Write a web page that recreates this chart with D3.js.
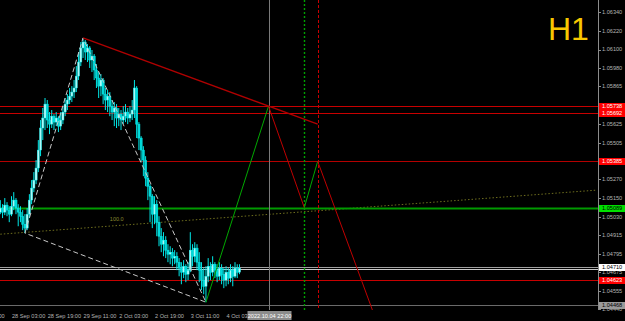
<!DOCTYPE html>
<html>
<head>
<meta charset="utf-8">
<script src="https://cdn.jsdelivr.net/npm/d3@7"></script>
<style>
  html, body { margin: 0; padding: 0; background: #000; overflow: hidden; }
  svg { display: block; }
</style>
</head>
<body>
<svg id="chart" width="625" height="321"></svg>
<script>
// H1 bars, bar 0 = 28 Sep 03:00
const firstBar = -5
const firstOpen = 1.05060
const closes = [
  1.05086, 1.05060, 1.05105, 1.05073, 1.05047,
  1.05098, 1.05137, 1.05086, 1.05060, 1.05034, 1.04983, 1.04958, 1.05047, 1.05137, 1.05214,
  1.05265, 1.05342, 1.05457, 1.05598, 1.05662, 1.05751, 1.05649, 1.05623, 1.05674, 1.05636,
  1.05662, 1.05610, 1.05649, 1.05700, 1.05751, 1.05777, 1.05802, 1.05828, 1.05854, 1.05930,
  1.06020, 1.06110, 1.06148, 1.06084, 1.06110, 1.06033, 1.06058, 1.05969, 1.05918, 1.05866,
  1.05905, 1.05815, 1.05777, 1.05802, 1.05738, 1.05700, 1.05726, 1.05662, 1.05687, 1.05649,
  1.05674, 1.05700, 1.05662, 1.05687, 1.05713, 1.05854, 1.05623, 1.05534, 1.05457, 1.05393,
  1.05278, 1.05226, 1.05162, 1.05047, 1.05111, 1.04996, 1.04906, 1.04855, 1.04881, 1.04817,
  1.04791, 1.04804, 1.04766, 1.04778, 1.04740, 1.04702, 1.04676, 1.04714, 1.04663, 1.04689,
  1.04817, 1.04778, 1.04830, 1.04740, 1.04689, 1.04625, 1.04586, 1.04650, 1.04714, 1.04676,
  1.04727, 1.04689, 1.04650, 1.04702, 1.04663, 1.04625, 1.04676, 1.04638, 1.04689, 1.04650,
  1.04702, 1.04676, 1.04702
]
const highs = [
  1.05137, 1.05111, 1.05150, 1.05124, 1.05098,
  1.05162, 1.05188, 1.05150, 1.05111, 1.05098, 1.05073, 1.05047, 1.05086, 1.05175, 1.05265,
  1.05316, 1.05393, 1.05521, 1.05649, 1.05726, 1.05790, 1.05777, 1.05700, 1.05713, 1.05687,
  1.05700, 1.05674, 1.05700, 1.05738, 1.05790, 1.05815, 1.05854, 1.05866, 1.05905, 1.05994,
  1.06084, 1.06148, 1.06174, 1.06161, 1.06135, 1.06122, 1.06097, 1.06071, 1.06007, 1.05956,
  1.05943, 1.05918, 1.05854, 1.05841, 1.05828, 1.05777, 1.05764, 1.05751, 1.05726, 1.05713,
  1.05738, 1.05751, 1.05726, 1.05738, 1.05777, 1.05905, 1.05866, 1.05636, 1.05546, 1.05482,
  1.05418, 1.05316, 1.05239, 1.05175, 1.05162, 1.05137, 1.05034, 1.04958, 1.04932, 1.04906,
  1.04855, 1.04842, 1.04830, 1.04817, 1.04804, 1.04766, 1.04740, 1.04753, 1.04727, 1.04740,
  1.04932, 1.04855, 1.04868, 1.04855, 1.04804, 1.04740, 1.04702, 1.04714, 1.04766, 1.04740,
  1.04778, 1.04740, 1.04727, 1.04740, 1.04727, 1.04702, 1.04714, 1.04702, 1.04727, 1.04714,
  1.04740, 1.04727, 1.04727
]
const lows = [
  1.05047, 1.05022, 1.05041, 1.05034, 1.04996,
  1.05034, 1.05073, 1.05047, 1.04970, 1.04996, 1.04945, 1.04926, 1.04945, 1.05022, 1.05111,
  1.05188, 1.05239, 1.05316, 1.05418, 1.05521, 1.05585, 1.05598, 1.05559, 1.05598, 1.05585,
  1.05610, 1.05572, 1.05585, 1.05623, 1.05674, 1.05713, 1.05751, 1.05764, 1.05790, 1.05828,
  1.05905, 1.05994, 1.06046, 1.06033, 1.06020, 1.05982, 1.05956, 1.05905, 1.05854, 1.05790,
  1.05802, 1.05751, 1.05713, 1.05700, 1.05674, 1.05649, 1.05610, 1.05598, 1.05610, 1.05585,
  1.05623, 1.05636, 1.05623, 1.05636, 1.05649, 1.05662, 1.05534, 1.05457, 1.05380, 1.05290,
  1.05226, 1.05137, 1.04996, 1.04958, 1.04983, 1.04906, 1.04842, 1.04804, 1.04778, 1.04766,
  1.04740, 1.04727, 1.04714, 1.04727, 1.04689, 1.04650, 1.04599, 1.04638, 1.04612, 1.04625,
  1.04676, 1.04714, 1.04740, 1.04689, 1.04612, 1.04561, 1.04535, 1.04484, 1.04612, 1.04625,
  1.04650, 1.04638, 1.04612, 1.04625, 1.04599, 1.04574, 1.04586, 1.04599, 1.04612, 1.04586,
  1.04638, 1.04638, 1.04663
]

const priceTicks = [1.06340, 1.06220, 1.06100, 1.05980, 1.05865, 1.05745, 1.05625, 1.05505,
  1.05385, 1.05270, 1.05150, 1.05030, 1.04915, 1.04795, 1.04675, 1.04555, 1.04440]
const timeTicks = [-18, 0, 16, 32, 48, 64, 80, 96]
const timeLabels = ['27 Sep 11:00', '28 Sep 03:00', '28 Sep 19:00', '29 Sep 11:00',
  '2 Oct 03:00', '2 Oct 19:00', '3 Oct 11:00', '4 Oct 03:00']
const cursorBar = 115
const cursorLabel = '2022.10.04 22:00'

// horizontal levels and their price tags
const levelPrices = [1.05738, 1.05692, 1.05385, 1.05089, 1.04710, 1.04623, 1.04468]
const extraLines = [1.04712, 1.04699]

// projected zigzag after the low
const zigBars = [87, 115, 131, 137, 163]
const zigPrices = [1.04484, 1.05738, 1.05089, 1.05385, 1.04375]
// trend line from the top
const trendBars = [32, 137]
const trendPrices = [1.06174, 1.05623]
// dashed triangle of the swing
const waveBars = [6, 32, 87]
const wavePrices = [1.04926, 1.06174, 1.04484]
// dotted channel
const chanBars = [-5, 262]
const chanPrices = [1.04919, 1.05201]
const chanLabel = '100.0'
const chanLabelBar = 44
// vertical markers
const vBars = [115, 131, 137]

const W = 625, H = 321
const plotR = 598, plotB = 310
const font = 'Liberation Sans, Arial, sans-serif'

const svg = d3.select('#chart')
svg.append('rect').attr('width', W).attr('height', H).attr('fill', '#000')

const x = d3.scaleLinear().domain([0, 96]).range([11.5, 226.06])
const y = d3.scaleLinear().domain([1.04440, 1.06340]).range([309.1, 12])

svg.append('defs').append('clipPath').attr('id', 'plot')
  .append('rect').attr('x', 0).attr('y', 0).attr('width', plotR).attr('height', plotB)

const plot = svg.append('g').attr('clip-path', 'url(#plot)')

const bars = closes.map((c, k) => ({
  i: firstBar + k,
  o: k === 0 ? firstOpen : closes[k - 1],
  h: highs[k], l: lows[k], c: c
}))

// dotted channel line
const line = d3.line().x(d => x(d[0])).y(d => y(d[1]))
plot.append('path')
  .attr('d', line(d3.zip(chanBars, chanPrices)))
  .attr('fill', 'none').attr('stroke', '#6e6e1e').attr('stroke-width', 1)
  .attr('stroke-dasharray', '1.5,2')
const chanY = d3.scaleLinear().domain(chanBars).range(chanPrices)
plot.append('text')
  .attr('x', x(chanLabelBar)).attr('y', y(chanY(chanLabelBar)) - 5)
  .attr('fill', '#8a8a30').attr('font-family', font).attr('font-size', 5.5)
  .text(chanLabel)

// horizontal lines
const levelColors = ['#c80000', '#c80000', '#b40000', '#009a00', '#b4b4b4', '#c80000', '#6a6a6a']
const levelWidths = [1, 1, 1, 2, 0, 1, 1]
plot.selectAll('.lvl').data(levelPrices).enter().append('line')
  .attr('x1', 0).attr('x2', plotR)
  .attr('y1', d => Math.round(y(d)) + 0.5).attr('y2', d => Math.round(y(d)) + 0.5)
  .attr('stroke', (d, k) => levelColors[k]).attr('stroke-width', (d, k) => levelWidths[k])
plot.selectAll('.xl').data(extraLines).enter().append('line')
  .attr('x1', 0).attr('x2', plotR)
  .attr('y1', d => Math.round(y(d)) + 0.5).attr('y2', d => Math.round(y(d)) + 0.5)
  .attr('stroke', (d, k) => k === 0 ? '#a0a0a0' : '#c8c8c8').attr('stroke-width', 1)

// vertical markers
const vColors = ['#7a7a7a', '#00a000', '#c80000']
const vDash = [null, '2,2', '3,2']
const vWidth = [1, 1.4, 1]
plot.selectAll('.vl').data(vBars).enter().append('line')
  .attr('x1', d => Math.round(x(d)) + 0.5).attr('x2', d => Math.round(x(d)) + 0.5)
  .attr('y1', 0).attr('y2', plotB)
  .attr('stroke', (d, k) => vColors[k]).attr('stroke-width', (d, k) => vWidth[k])
  .attr('stroke-dasharray', (d, k) => vDash[k])

// candles
const cg = plot.append('g')
cg.selectAll('.wick').data(bars).enter().append('line')
  .attr('x1', d => x(d.i)).attr('x2', d => x(d.i))
  .attr('y1', d => y(d.h)).attr('y2', d => y(d.l))
  .attr('stroke', '#00e8e8').attr('stroke-width', 1)
cg.selectAll('.body').data(bars).enter().append('rect')
  .attr('x', d => x(d.i) - 1.1).attr('width', 2.2)
  .attr('y', d => y(Math.max(d.o, d.c)))
  .attr('height', d => Math.max(1, Math.abs(y(d.o) - y(d.c))))
  .attr('fill', d => d.c >= d.o ? '#aef8f8' : '#00d8d8')
  .attr('stroke', '#00f0f0').attr('stroke-width', 0.4)

// dashed swing triangle
plot.append('path')
  .attr('d', line(d3.zip(waveBars, wavePrices)) + 'Z')
  .attr('fill', 'none').attr('stroke', '#c8c8c8').attr('stroke-width', 1)
  .attr('stroke-dasharray', '5,3')

// trend line
plot.append('path')
  .attr('d', line(d3.zip(trendBars, trendPrices)))
  .attr('fill', 'none').attr('stroke', '#b00000').attr('stroke-width', 1.3)

// zigzag projection, green legs up, red legs down
const legs = d3.pairs(d3.zip(zigBars, zigPrices))
plot.selectAll('.leg').data(legs).enter().append('path')
  .attr('d', d => line(d))
  .attr('fill', 'none').attr('stroke-width', 1)
  .attr('stroke', d => d[1][1] > d[0][1] ? '#00a800' : '#c00000')

// right price axis
svg.append('line').attr('x1', plotR + 0.5).attr('x2', plotR + 0.5)
  .attr('y1', 0).attr('y2', plotB).attr('stroke', '#8c8c8c')
const ya = svg.append('g')
ya.selectAll('.tk').data(priceTicks).enter().append('line')
  .attr('x1', plotR).attr('x2', plotR + 3)
  .attr('y1', d => Math.round(y(d)) + 0.5).attr('y2', d => Math.round(y(d)) + 0.5)
  .attr('stroke', '#8c8c8c')
ya.selectAll('.tl').data(priceTicks).enter().append('text')
  .attr('x', plotR + 4).attr('y', d => y(d)).attr('dy', '0.35em')
  .attr('fill', '#b4b4b4').attr('font-family', font).attr('font-size', 5.6)
  .text(d => d.toFixed(5))

// price tags of the levels
const tagFill = ['#ff0000', '#ff0000', '#ff0000', '#00e000', '#ffffff', '#ff0000', '#9a9a9a']
const tagText = ['#ffffff', '#ffffff', '#ffffff', '#000000', '#000000', '#ffffff', '#000000']
const tags = svg.selectAll('.tag').data(levelPrices).enter().append('g')
  .attr('transform', d => `translate(${plotR + 1},${Math.round(y(d)) + 0.5})`)
tags.append('rect').attr('x', 0).attr('y', -3.5).attr('width', W - plotR).attr('height', 7)
  .attr('fill', (d, k) => tagFill[k])
tags.append('text').attr('x', 3).attr('y', 0).attr('dy', '0.35em')
  .attr('fill', (d, k) => tagText[k]).attr('font-family', font).attr('font-size', 5.6)
  .text(d => d.toFixed(5))

// bottom time axis
const xa = svg.append('g')
xa.selectAll('.tt').data(timeTicks).enter().append('text')
  .attr('x', d => x(d) + 0.5).attr('y', 318)
  .attr('fill', '#b4b4b4').attr('font-family', font).attr('font-size', 5.6)
  .text((d, k) => timeLabels[k])
const cx = Math.round(x(cursorBar)) + 0.5
xa.append('rect').attr('x', cx - 22).attr('y', 311).attr('width', 44).attr('height', 9)
  .attr('fill', '#8c8c8c')
xa.append('text').attr('x', cx).attr('y', 318).attr('text-anchor', 'middle')
  .attr('fill', '#ffffff').attr('font-family', font).attr('font-size', 5.6)
  .text(cursorLabel)

// timeframe caption
svg.append('text').attr('x', 548).attr('y', 40)
  .attr('fill', '#f8c800').attr('font-family', font).attr('font-size', 32)
  .text('H1')
</script>
</body>
</html>
